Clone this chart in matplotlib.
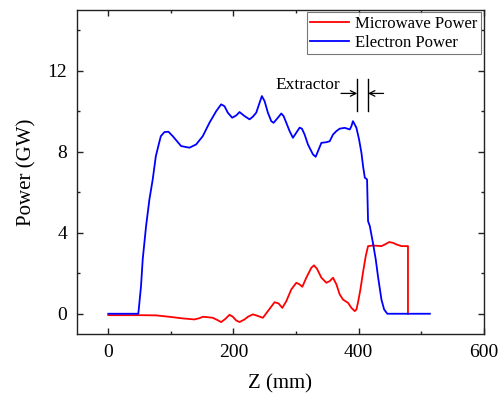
import matplotlib
matplotlib.use("Agg")
import matplotlib.pyplot as plt
from matplotlib.ticker import MultipleLocator

plt.rcParams['font.family'] = ['Liberation Serif', 'DejaVu Serif']

# Electron power (blue)
z_e = [0, 48, 52.3, 55, 60.4, 65.7, 71, 76, 80.6, 84, 89.7, 96.1, 103, 116.4,
       129.7, 140.4, 151, 161.7, 172.4, 180.4, 185.7, 191, 198, 204.4, 209.8,
       217.8, 225.8, 231, 236.5, 241.8, 245.5, 249.8, 255.1, 260.5, 264.2,
       271.1, 276.5, 280.2, 284.5, 289.8, 295.1, 300.5, 305.8, 309.5, 313.8,
       319.1, 327.1, 331.5, 335.2, 340.6, 348.6, 353.9, 359.2, 364.6, 369.9,
       377.9, 386, 388.6, 391, 393.9, 396.6, 400.8, 404.6, 407.2, 410, 413.6,
       415.2, 418, 423, 427.5, 431, 436.6, 440.9, 446, 514]
p_e = [0, 0, 1.36, 2.68, 4.33, 5.64, 6.63, 7.78, 8.36, 8.77, 8.97, 8.99, 8.77, 8.28,
       8.2, 8.36, 8.77, 9.43, 10.0, 10.34, 10.25, 9.93, 9.68, 9.79, 9.96,
       9.76, 9.6, 9.73, 9.93, 10.42, 10.75, 10.5, 9.93, 9.51, 9.43,
       9.68, 9.89, 9.76, 9.43, 9.02, 8.69, 8.94, 9.19, 9.14, 8.85,
       8.36, 7.87, 7.75, 8.03, 8.44, 8.47, 8.52, 8.85, 9.02, 9.14,
       9.18, 9.1, 9.26, 9.51, 9.35, 9.18, 8.61, 7.95, 7.29, 6.72, 6.63,
       4.57, 4.33, 3.5, 2.68, 1.86, 0.7, 0.21, 0, 0]

# Microwave power (red)
z_m = [0, 49.6, 76.3, 97.7, 119, 137.7, 145.7, 151, 159, 167, 172.4, 180.4, 187.3,
       193.8, 199.1, 204.4, 209.8, 217.8, 223.1, 231.1, 239.1, 247.1, 255.1,
       265.8, 272.2, 278.1, 284.5, 292.5, 300.5, 305.8, 310.1, 316.5, 324.5,
       328.8, 333.6, 340.6, 348.6, 353.9, 359.2, 364.6, 369.9, 375.2, 383.2,
       388.6, 393.9, 396.6, 399, 403, 407, 411.5, 415.2, 423, 436.6, 442, 449,
       455.3, 460.7, 468.7, 479, 479]
p_m = [-0.07, -0.07, -0.08, -0.15, -0.23, -0.28, -0.22, -0.15, -0.17, -0.2, -0.28,
       -0.41, -0.25, -0.05, -0.15, -0.33, -0.41, -0.28, -0.15, -0.03, -0.11,
       -0.2, 0.13, 0.57, 0.51, 0.29, 0.62, 1.2, 1.53, 1.45, 1.33, 1.78, 2.27,
       2.39, 2.22, 1.78, 1.53, 1.61, 1.78, 1.45, 0.95, 0.7, 0.54, 0.29, 0.13,
       0.21, 0.54, 1.2, 2.02, 2.85, 3.34, 3.37, 3.34, 3.42, 3.54, 3.5, 3.42,
       3.34, 3.34, 0]

x_ticks = [0, 200, 400, 600]
y_ticks = [0, 4, 8, 12]
extractor_z = [398, 415]

fig = plt.figure(figsize=(5.02, 3.98), dpi=100)
ax = fig.add_axes([0.1534, 0.1608, 0.8101, 0.8141])

ax.plot(z_m, p_m, color='#ff0000', lw=1.3, label='Microwave Power')
ax.plot(z_e, p_e, color='#0000ff', lw=1.3, label='Electron Power')

ax.set_xlim(-50, 600)
ax.set_ylim(-1, 15)
ax.set_xticks(x_ticks)
ax.set_yticks(y_ticks)
ax.xaxis.set_minor_locator(MultipleLocator(100))
ax.yaxis.set_minor_locator(MultipleLocator(2))
ax.tick_params(which='both', direction='in', top=True, right=True,
               labelsize=14, color='#222222')
ax.tick_params(which='major', length=4.5, width=1.0, pad=7)
ax.tick_params(which='minor', length=2.5, width=1.0)
for s in ax.spines.values():
    s.set_linewidth(1.0)
    s.set_color('#222222')

ax.set_xlabel('Z (mm)', fontsize=15, labelpad=10)
ax.set_ylabel('Power (GW)', fontsize=15, labelpad=8)

# Extractor annotation
for xz in extractor_z:
    ax.plot([xz, xz], [9.99, 11.57], color='black', lw=1.0)
ax.annotate('', xy=(extractor_z[0], 10.88), xytext=(372, 10.88),
            arrowprops=dict(arrowstyle='->', color='black', lw=0.9,
                            shrinkA=0, shrinkB=0))
ax.annotate('', xy=(extractor_z[1], 10.88), xytext=(440, 10.88),
            arrowprops=dict(arrowstyle='->', color='black', lw=0.9,
                            shrinkA=0, shrinkB=0))
ax.text(370, 11.3, 'Extractor', fontsize=12.5, ha='right', va='center')

leg = ax.legend(loc='upper right', fontsize=12, frameon=True, fancybox=False,
                edgecolor='#555555', handlelength=2.3, borderpad=0.2,
                labelspacing=0.2, handletextpad=0.4, borderaxespad=0.15)
leg.get_frame().set_linewidth(0.8)

fig.savefig('out.png', dpi=100)
